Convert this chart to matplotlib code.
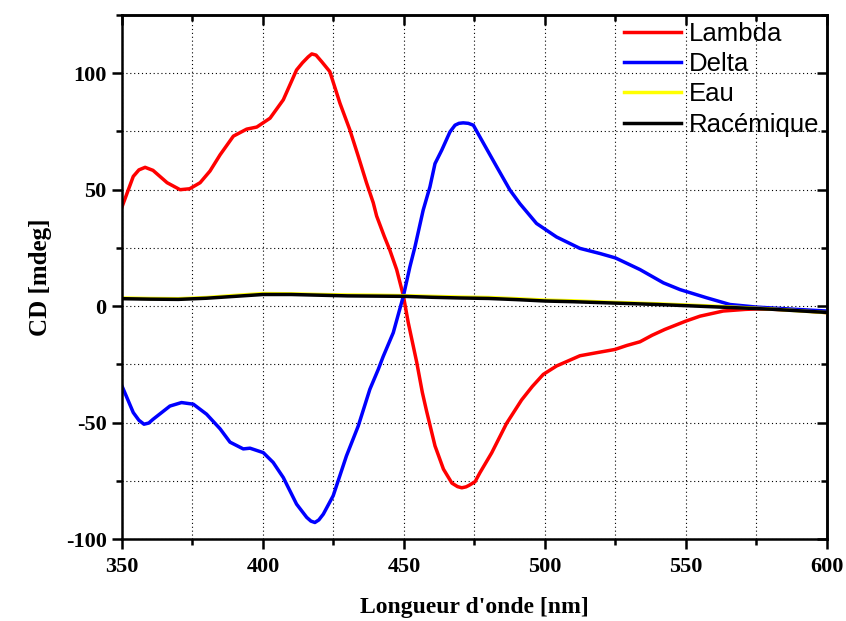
import matplotlib
matplotlib.use('Agg')
import matplotlib.pyplot as plt
import matplotlib.ticker as ticker

plt.rcParams['axes.unicode_minus'] = False

# ---------------------------------------------------------------------------
# Donnees (CD en mdeg vs longueur d'onde en nm)
# ---------------------------------------------------------------------------
lambda_x = [350, 354, 356, 358.2, 361, 366, 370.6, 374, 377.7, 381.2, 384.8, 389.5,
            394.2, 397.8, 402.5, 407.2, 411.9, 414, 416, 417.3, 418.8, 420.8, 423.7,
            427.3, 430.8, 433.8, 436.7, 439.1, 440.3, 443, 445, 447.4, 449.8,
            451.5, 454.5, 456.5, 458, 461, 464, 467, 469, 470.5, 472, 473, 475.2, 476.9,
            481.1, 486.4, 491.7, 495.5, 499.4, 504.1, 512.4, 518.3, 524.8, 529,
            533.7, 538, 542.5, 550, 555, 563.2, 571, 575, 580, 590, 600]
lambda_y = [42.6, 55.7, 58.5, 59.6, 58.3, 53, 50, 50.4, 53, 58, 65, 73,
            76, 76.9, 80.7, 88.6, 101.4, 104.5, 107, 108.3, 107.8, 105, 100.7,
            87.1, 75.7, 64.3, 53, 44.4, 38.7, 30, 24, 15.7, 4.4,
            -7, -24, -37, -45, -60, -70, -76, -77.5, -78, -77.6, -77, -75.4, -71.6,
            -63, -50.3, -40.3, -34.5, -29.3, -25.7, -21.3, -20, -18.6, -16.9,
            -15.3, -12.5, -10, -6.4, -4.3, -2.1, -1.4, -1.2, -1.3, -1.8, -2.8]

delta_x = [350, 354, 356, 357.8, 359.5, 361, 367, 371.1, 375.3, 380, 384.8, 388.3, 393,
           395.4, 400.1, 403.6, 407.2, 411.9, 415.5, 417, 418.4, 419.8, 421.4, 424.9, 429.6,
           433.8, 437.9, 440.9, 442.6, 446.2, 449.8, 452.1, 453.9, 456.8, 459.2,
           461, 463.4, 466.3, 468.1, 469.5, 471, 472.8, 474.6, 477.6, 482.9, 487.6, 491.1,
           497, 504.1, 512.4, 519.5, 525, 533.7, 542, 547.9, 557.3, 565.6,
           575, 589.2, 600]
delta_y = [-34.3, -45.7, -49, -50.7, -50.2, -48.6, -42.9, -41.4, -42.1, -46.4, -52.7, -58.4, -61.3,
           -61, -62.9, -67.1, -73.6, -85, -90.7, -92.3, -92.9, -91.8, -89.3, -81.4, -64.3,
           -51.4, -35.7, -27.1, -21.7, -11.4, 4.4, 16.9, 25.5, 41.2, 51.2,
           61.2, 67, 74.8, 77.7, 78.5, 78.7, 78.5, 77.7, 71.2, 59.8, 49.8, 44,
           35.5, 29.7, 24.8, 22.6, 20.7, 15.7, 10, 7.1, 3.6, 0.7,
           -0.4, -1.4, -2.1]

flat_x = [350, 360, 370, 380, 390, 400, 410, 420, 430, 440, 450, 460, 470,
          480, 490, 500, 510, 520, 530, 540, 550, 560, 570, 580, 590, 600]
eau_y = [3.5, 3.3, 3.2, 3.7, 4.6, 5.4, 5.3, 5.0, 4.8, 4.7, 4.5, 4.2, 3.9,
         3.7, 3.2, 2.6, 2.3, 1.8, 1.4, 1.0, 0.5, 0.0, -0.6, -1.2, -2.0, -2.8]
rac_y = [3.2, 3.0, 2.9, 3.4, 4.2, 5.0, 5.0, 4.7, 4.4, 4.3, 4.2, 3.8, 3.5,
         3.3, 2.8, 2.2, 1.9, 1.5, 1.1, 0.7, 0.2, -0.3, -0.8, -1.3, -2.0, -2.7]

# ---------------------------------------------------------------------------
# Figure
# ---------------------------------------------------------------------------
fig = plt.figure(figsize=(8.46, 6.21), dpi=100)
ax = fig.add_axes([0.1442, 0.132, 0.8333, 0.8438])

ax.plot(lambda_x, lambda_y, color='#ff0000', lw=2.5, label='Lambda')
ax.plot(delta_x, delta_y, color='#0000ff', lw=2.5, label='Delta')
ax.plot(flat_x, eau_y, color='#ffff00', lw=2.5, label='Eau')
ax.plot(flat_x, rac_y, color='black', lw=2.5, label=u'Racémique')

ax.set_xlim(350, 600)
ax.set_ylim(-100, 125)
ax.xaxis.set_major_locator(ticker.MultipleLocator(50))
ax.xaxis.set_minor_locator(ticker.MultipleLocator(25))
ax.yaxis.set_major_locator(ticker.MultipleLocator(50))
ax.yaxis.set_minor_locator(ticker.MultipleLocator(25))
ax.grid(which='both', linestyle=(0, (1, 2.5)), color='black', lw=0.8)

for s in ax.spines.values():
    s.set_linewidth(1.8)

ax.tick_params(which='major', direction='out', length=7, width=1.8,
               top=False, right=False, labelsize=16)
ax.tick_params(which='minor', direction='out', length=4, width=1.8,
               top=False, right=False)
ax.tick_params(axis='x', which='major', pad=6)
ax.tick_params(axis='y', which='major', pad=4)

# ticks interieurs en haut et a droite
axt = ax.secondary_xaxis('top')
axt.xaxis.set_major_locator(ticker.MultipleLocator(50))
axt.xaxis.set_minor_locator(ticker.MultipleLocator(25))
axt.tick_params(which='major', direction='in', length=7, width=1.8, labeltop=False)
axt.tick_params(which='minor', direction='in', length=4, width=1.8)
axr = ax.secondary_yaxis('right')
axr.yaxis.set_major_locator(ticker.MultipleLocator(50))
axr.yaxis.set_minor_locator(ticker.MultipleLocator(25))
axr.tick_params(which='major', direction='in', length=7, width=1.8, labelright=False)
axr.tick_params(which='minor', direction='in', length=4, width=1.8)
for a in (axt, axr):
    for s in a.spines.values():
        s.set_linewidth(1.8)

for lab in ax.get_xticklabels() + ax.get_yticklabels():
    lab.set_family('Liberation Serif')
    lab.set_fontweight('bold')

ax.set_xlabel(u"Longueur d'onde [nm]", family='Liberation Serif',
              fontweight='bold', fontsize=17, labelpad=14)
ax.set_ylabel('CD [mdeg]', family='Liberation Serif',
              fontweight='bold', fontsize=18, labelpad=10)

leg = ax.legend(loc='upper right', frameon=False,
                prop={'family': 'Liberation Sans', 'size': 18.5},
                handlelength=2.2, handletextpad=0.3, labelspacing=0.25,
                borderaxespad=0.1, bbox_to_anchor=(1.007, 1.012))

plt.savefig('out.png', dpi=100)
plt.close('all')
